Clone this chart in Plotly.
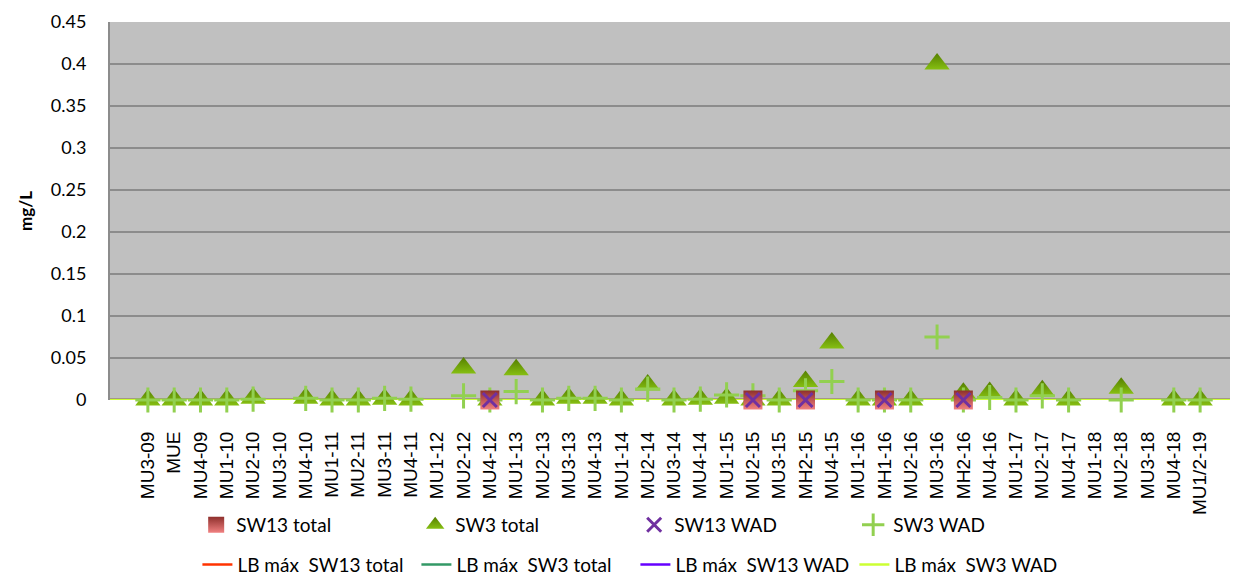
import plotly.graph_objects as go

categories = ["MU3-09", "MUE", "MU4-09", "MU1-10", "MU2-10", "MU3-10", "MU4-10", "MU1-11",
              "MU2-11", "MU3-11", "MU4-11", "MU1-12", "MU2-12", "MU4-12", "MU1-13", "MU2-13",
              "MU3-13", "MU4-13", "MU1-14", "MU2-14", "MU3-14", "MU4-14", "MU1-15", "MU2-15",
              "MU3-15", "MH2-15", "MU4-15", "MU1-16", "MH1-16", "MU2-16", "MU3-16", "MH2-16",
              "MU4-16", "MU1-17", "MU2-17", "MU4-17", "MU1-18", "MU2-18", "MU3-18", "MU4-18",
              "MU1/2-19"]

N = None
sw13_total = [N, N, N, N, N, N, N, N, N, N, N, N, N, 0, N, N, N, N, N, N, N, N, N, 0,
              N, 0, N, N, 0, N, N, 0, N, N, N, N, N, N, N, N, N]
sw3_total = [0, 0, 0, 0, 0.002, N, 0.002, 0, 0, 0.001, 0, N, 0.038, 0, 0.036, 0,
             0.002, 0.002, 0, 0.018, 0, 0.001, 0.002, 0, 0, 0.022, 0.068, 0, 0, 0,
             0.4, 0.008, 0.009, 0, 0.011, 0, N, 0.014, N, 0, 0]
sw13_wad = [N, N, N, N, N, N, N, N, N, N, N, N, N, 0, N, N, N, N, N, N, N, N, N, 0,
            N, 0, N, N, 0, N, N, 0, N, N, N, N, N, N, N, N, N]
sw3_wad = [0, 0, 0, 0, 0.001, N, 0.002, 0, 0, 0.002, 0.001, N, 0.005, 0, 0.01, 0,
           0.002, 0.002, 0, 0.013, 0, 0.001, 0.006, 0.005, 0, 0.011, 0.022, 0, 0, 0,
           0.075, 0, 0.003, 0, 0.005, 0, N, 0, N, 0, 0]

lb_max_sw13_total = 0
lb_max_sw3_total = 0
lb_max_sw13_wad = 0
lb_max_sw3_wad = 0

y_ticks = [0, 0.05, 0.1, 0.15, 0.2, 0.25, 0.3, 0.35, 0.4, 0.45]

xs = list(range(len(categories)))
X_RANGE = [-1.44, len(categories) + 0.44]

FONT = "Lato, 'Open Sans', sans-serif"

fig = go.Figure()

# LB lines (legend row 2)
lines = [("LB máx  SW13 total", lb_max_sw13_total, "#FF3300"),
         ("LB máx  SW3 total", lb_max_sw3_total, "#339966"),
         ("LB máx  SW13 WAD", lb_max_sw13_wad, "#6600FF"),
         ("LB máx  SW3 WAD", lb_max_sw3_wad, "#CCFF33")]
for i, (name, val, col) in enumerate(lines):
    fig.add_trace(go.Scatter(x=X_RANGE, y=[val, val], mode="lines", name=name,
                             line=dict(color=col, width=2.5), legend="legend2",
                             legendrank=10 + i, cliponaxis=False, hoverinfo="skip"))

# markers
fig.add_trace(go.Scatter(x=xs, y=sw3_total, mode="markers", name="SW3 total", legendrank=2,
                         marker=dict(symbol="triangle-up", size=22, color="#557F00",
                                     gradient=dict(type="vertical", color="#86BF12"),
                                     line=dict(width=0)),
                         cliponaxis=False))
fig.add_trace(go.Scatter(x=xs, y=sw3_wad, mode="markers", name="SW3 WAD", legendrank=4,
                         marker=dict(symbol="cross-thin", size=18, color="#92D050",
                                     line=dict(width=3, color="#92D050")),
                         cliponaxis=False))
fig.add_trace(go.Scatter(x=xs, y=sw13_total, mode="markers", name="SW13 total", legendrank=1,
                         marker=dict(symbol="square", size=19, color="#8E2F2C",
                                     gradient=dict(type="vertical", color="#F08080"),
                                     line=dict(width=0)),
                         cliponaxis=False))
fig.add_trace(go.Scatter(x=xs, y=sw13_wad, mode="markers", name="SW13 WAD", legendrank=3,
                         marker=dict(symbol="x-thin", size=14, color="#7030A0",
                                     line=dict(width=3, color="#7030A0")),
                         cliponaxis=False))

fig.update_layout(
    width=1238, height=586,
    margin=dict(l=102, r=8, t=14, b=194, autoexpand=False),
    paper_bgcolor="white", plot_bgcolor="#C0C0C0",
    font=dict(family=FONT, color="black"),
    xaxis=dict(range=X_RANGE, tickmode="array", tickvals=xs, ticktext=categories,
               tickangle=-90, ticks="outside", ticklen=23, tickcolor="rgba(0,0,0,0)",
               tickfont=dict(family="'Liberation Sans', Arial, sans-serif", size=19),
               showgrid=False, zeroline=False, showline=False, fixedrange=True,
               automargin=False),
    yaxis=dict(range=[0, 0.45], tickmode="array", tickvals=y_ticks,
               ticktext=[f"{v:g}" for v in y_ticks],
               ticks="outside", ticklen=18, tickcolor="rgba(0,0,0,0)",
               tickfont=dict(family=FONT, size=18),
               showgrid=True, gridcolor="#8C8C8C", gridwidth=2,
               zeroline=False, showline=True, linecolor="#8C8C8C", linewidth=2,
               automargin=False,
               title=dict(text="<b>mg/L</b>", font=dict(family=FONT, size=17), standoff=14)),
    legend=dict(orientation="h", xref="container", yref="container",
                x=0.152, y=0.118, xanchor="left", yanchor="middle",
                entrywidth=174, entrywidthmode="pixels",
                font=dict(family=FONT, size=19), bgcolor="rgba(0,0,0,0)",
                traceorder="normal"),
    legend2=dict(orientation="h", xref="container", yref="container",
                 x=0.153, y=0.05, xanchor="left", yanchor="middle",
                 entrywidth=174, entrywidthmode="pixels",
                 font=dict(family=FONT, size=19), bgcolor="rgba(0,0,0,0)",
                 traceorder="normal"),
    showlegend=True,
)

fig.write_html("out.html")
